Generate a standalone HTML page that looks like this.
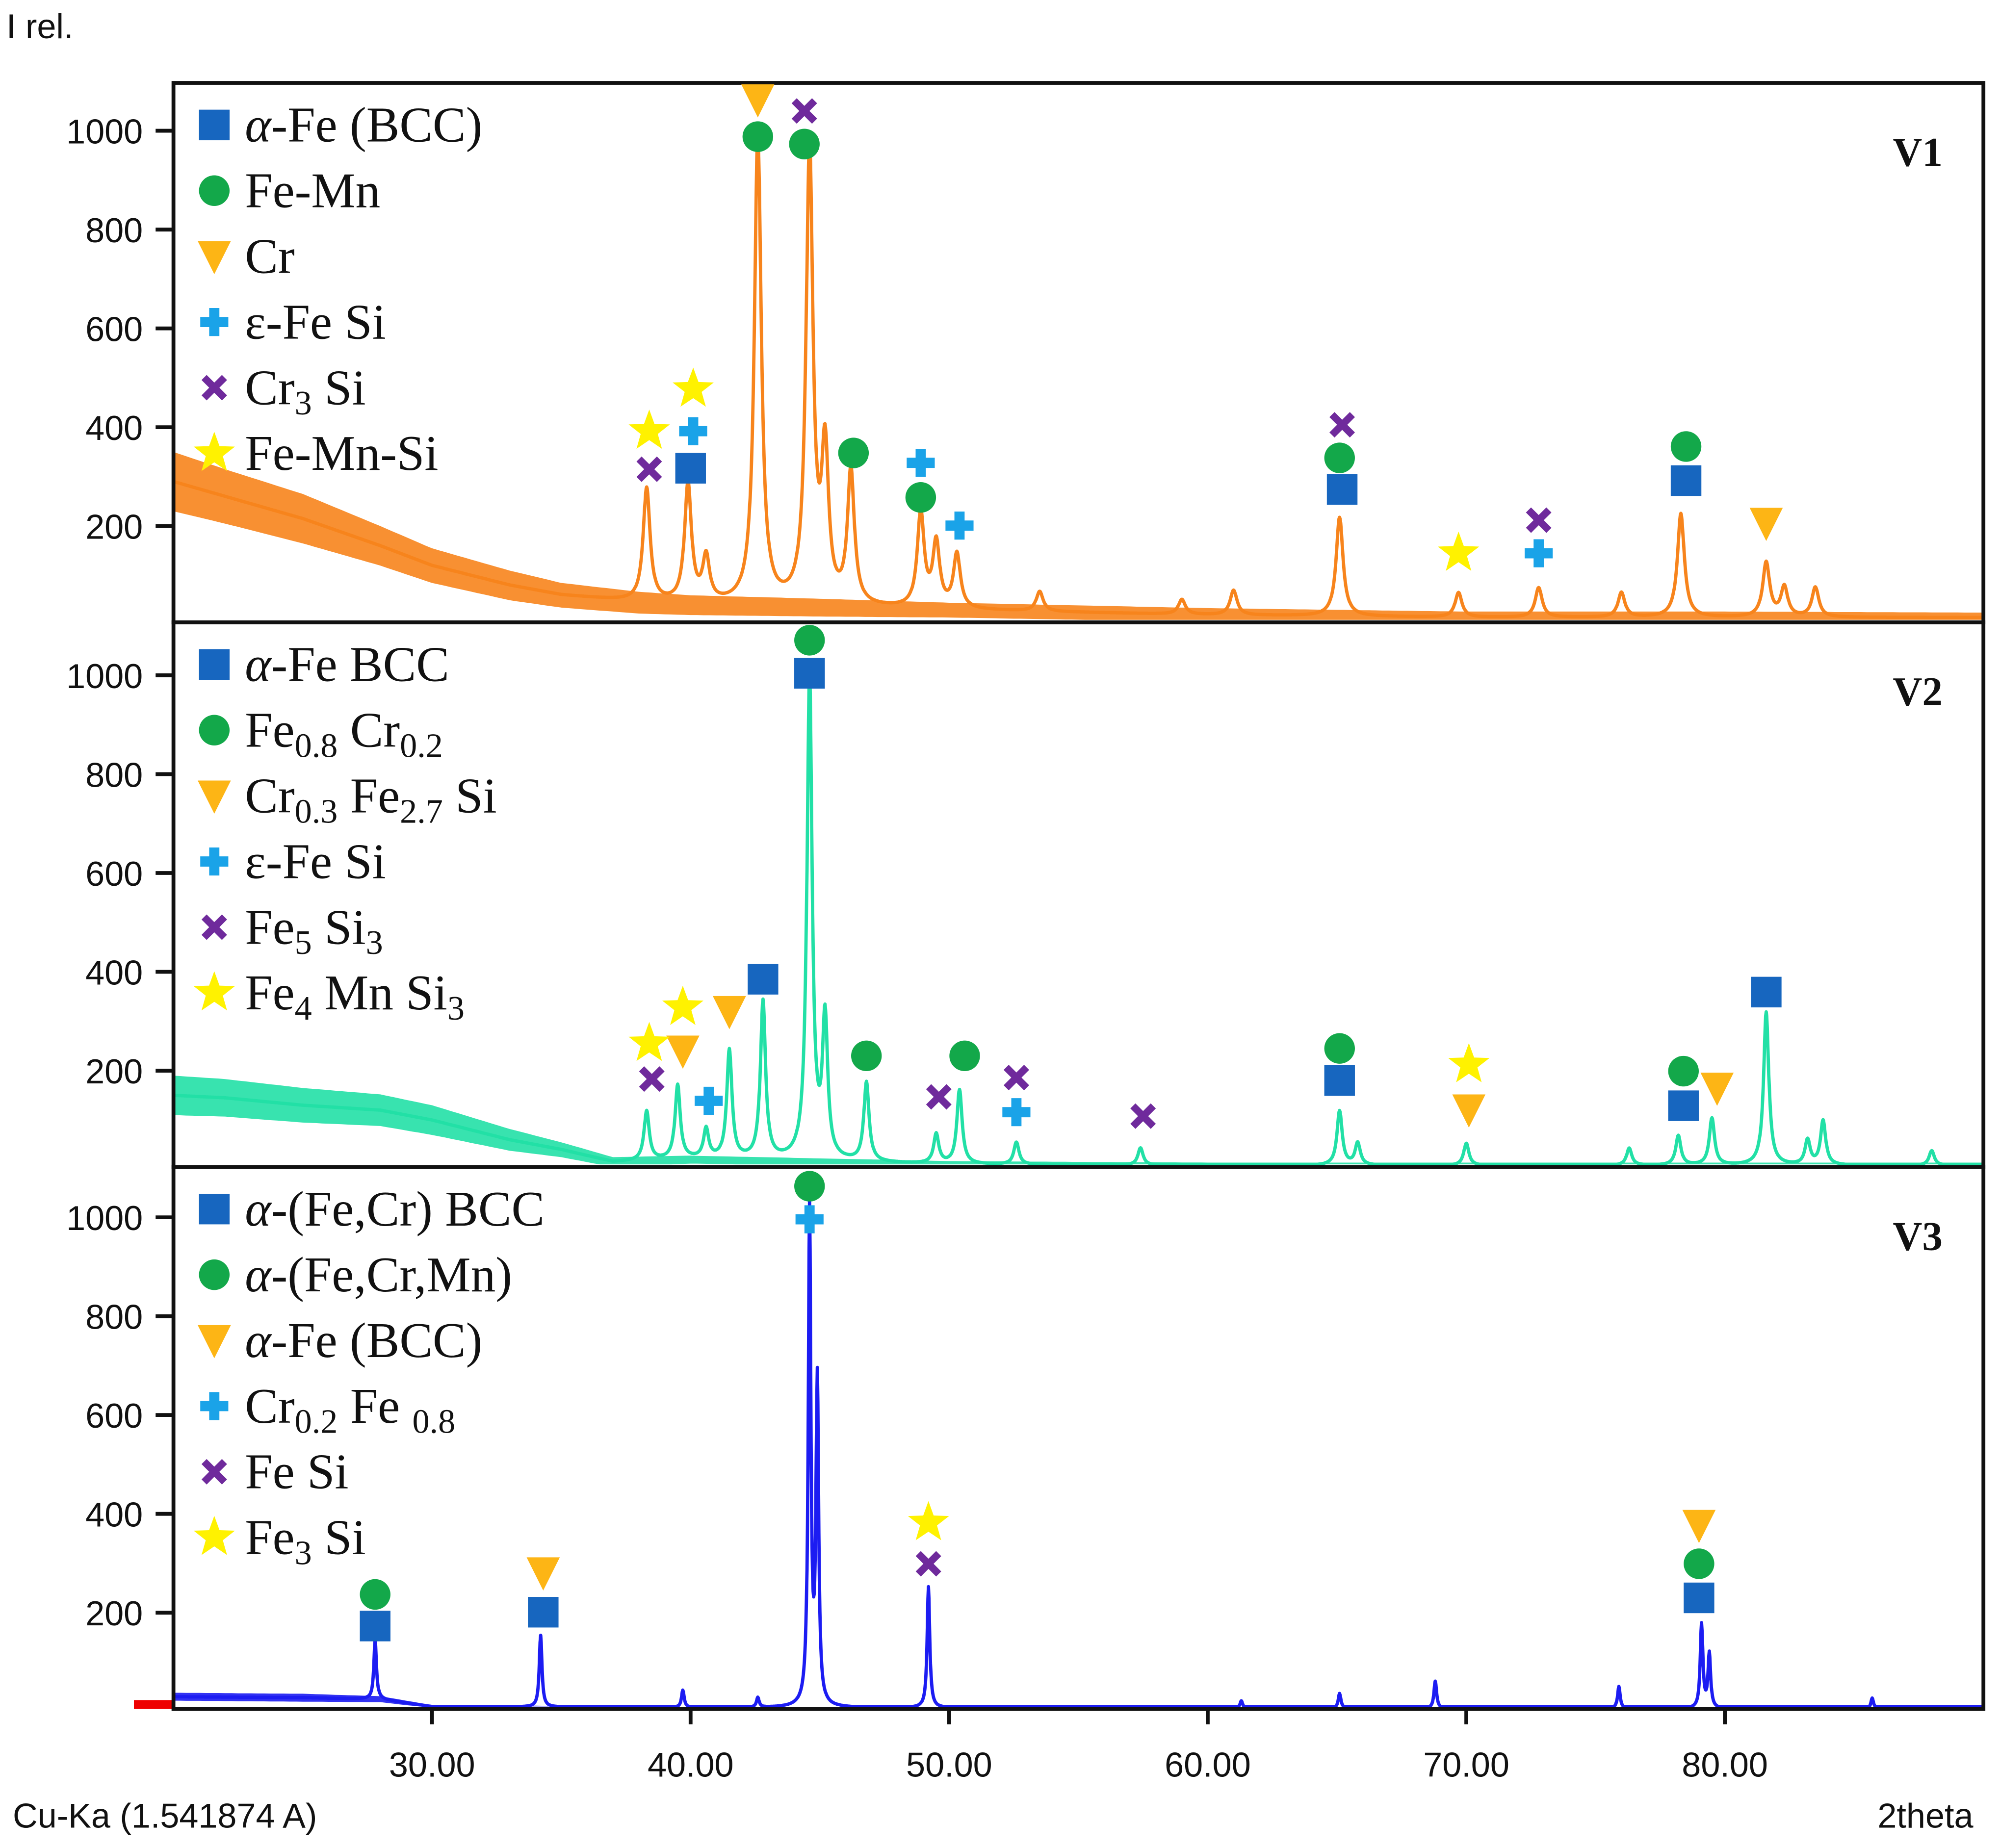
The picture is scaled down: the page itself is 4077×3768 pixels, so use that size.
<!DOCTYPE html>
<html><head><meta charset="utf-8"><style>
html,body{margin:0;padding:0;background:#fff}
svg{display:block}
.tk{font-family:"Liberation Sans",sans-serif;font-size:27px;fill:#111}
.lg{font-family:"Liberation Serif",serif;font-size:39px;fill:#111}
.pl{font-family:"Liberation Serif",serif;font-size:32px;font-weight:bold;fill:#111}
</style></head><body>
<svg id="chart" width="4077" height="3768" viewBox="0 0 1568 1449" preserveAspectRatio="none" xmlns="http://www.w3.org/2000/svg">
<text x="5" y="30" class="tk">I rel.</text>
<text x="10" y="1433" class="tk">Cu-Ka (1.541874 A)</text>
<text x="1472" y="1433" class="tk">2theta</text>
<rect x="105" y="1333" width="31" height="7" fill="#e00"/>
<g id="plots"></g>
</svg>
<script>
// ---------- data ----------
const xTicks = [30,40,50,60,70,80];
const yTicks = [200,400,600,800,1000];
// V1
const v1BaseX = [20,22,25,28,30,33,35,38,40,45,50,60,70,80,90];
const v1BaseY = [290,260,215,160,120,80,60,45,40,35,30,20,15,15,15];
const v1AmpY  = [60,55,50,40,35,30,25,22,20,18,15,14,12,12,10];
const v1PeakPos = [38.3,39.9,40.6,42.6,44.6,45.2,46.2,48.9,49.5,50.3,53.5,59.0,61.0,65.1,69.7,72.8,76.0,78.3,81.6,82.3,83.5];
const v1PeakH   = [230,240,90,950,920,300,270,190,130,110,40,30,50,200,50,60,50,210,110,60,60];
// V2
const v2BaseX = [20,22,25,28,30,33,35,37,40,50,60,90];
const v2BaseY = [150,145,130,120,100,60,40,15,20,10,8,8];
const v2AmpY  = [40,38,35,32,30,22,15,10,8,7,6,6];
const v2PeakPos = [38.3,39.5,40.6,41.5,42.8,44.6,45.2,46.8,49.5,50.4,52.6,57.4,65.1,65.8,70.0,76.3,78.2,79.5,81.6,83.2,83.8,88.0];
const v2PeakH   = [100,150,60,220,320,980,280,160,60,150,45,35,110,45,45,35,60,95,310,50,90,30];
// V3
const v3BaseX = [20,25,28,30,40,90];
const v3BaseY = [30,28,25,10,8,5];
const v3AmpY  = [8,8,6,3,2,2];
const v3PeakPos = [27.8,34.2,39.7,42.6,44.6,44.9,49.2,61.3,65.1,68.8,75.9,79.1,79.4,85.7];
const v3PeakH   = [120,145,35,20,1000,650,245,15,30,55,45,170,110,22];
// markers: x, value, type
const v1MX = [42.6,42.6,44.4,44.4,38.4,38.4,40.1,40.1,40.0,46.3,48.9,48.9,50.4,65.2,65.1,65.2,69.7,72.8,72.8,78.5,78.5,81.6];
const v1MV = [1063,988,973,1040,392,315,477,392,317,348,328,258,201,405,338,274,145,212,145,361,292,206];
const v1MT = ["tri","cir","cir","x","star","x","star","plus","sq","cir","plus","cir","plus","x","cir","sq","star","x","plus","cir","sq","tri"];
const v2MX = [44.6,44.6,42.8,41.5,39.7,39.7,38.4,38.5,40.7,46.8,50.6,49.6,52.6,52.6,57.5,65.1,65.1,70.1,70.1,78.4,78.4,79.7,81.6];
const v2MV = [1071,1004,385,320,328,240,255,183,139,230,230,147,186,116,108,245,180,212,121,199,129,165,359];
const v2MT = ["cir","sq","sq","tri","star","tri","star","x","plus","cir","cir","x","x","plus","x","cir","sq","star","tri","cir","sq","tri","sq"];
const v3MX = [44.6,44.6,34.3,34.3,27.8,27.8,49.2,49.2,79.0,79.0,79.0];
const v3MV = [1063,996,281,201,237,173,382,299,377,299,230];
const v3MT = ["cir","plus","tri","sq","cir","sq","star","x","tri","cir","sq"];
const A="<tspan font-style='italic'>α</tspan>";
const legend1 = [["sq",A+"-Fe (BCC)"],["cir","Fe-Mn"],["tri","Cr"],["plus","ε-Fe Si"],["x","Cr<tspan font-size='27' dy='8'>3</tspan><tspan dy='-8'> Si</tspan>"],["star","Fe-Mn-Si"]];
const legend2 = [["sq",A+"-Fe BCC"],["cir","Fe<tspan font-size='27' dy='8'>0.8</tspan><tspan dy='-8'> Cr</tspan><tspan font-size='27' dy='8'>0.2</tspan>"],["tri","Cr<tspan font-size='27' dy='8'>0.3</tspan><tspan dy='-8'> Fe</tspan><tspan font-size='27' dy='8'>2.7</tspan><tspan dy='-8'> Si</tspan>"],["plus","ε-Fe Si"],["x","Fe<tspan font-size='27' dy='8'>5</tspan><tspan dy='-8'> Si</tspan><tspan font-size='27' dy='8'>3</tspan>"],["star","Fe<tspan font-size='27' dy='8'>4</tspan><tspan dy='-8'> Mn Si</tspan><tspan font-size='27' dy='8'>3</tspan>"]];
const legend3 = [["sq",A+"-(Fe,Cr) BCC"],["cir",A+"-(Fe,Cr,Mn)"],["tri",A+"-Fe (BCC)"],["plus","Cr<tspan font-size='27' dy='8'>0.2</tspan><tspan dy='-8'> Fe </tspan><tspan font-size='27' dy='8'>0.8</tspan>"],["x","Fe Si"],["star","Fe<tspan font-size='27' dy='8'>3</tspan><tspan dy='-8'> Si</tspan>"]];

// ---------- drawing ----------
const NS="http://www.w3.org/2000/svg";
const g=document.getElementById('plots');
const L=136,R=1555,X0=20,X1=90;
const sx=v=>L+(v-X0)*(R-L)/(X1-X0);
const K=0.3875;
const COL={sq:"#1766bf",cir:"#13a84a",tri:"#fdb515",plus:"#1aa3e8",x:"#6f2a9c",star:"#fff200"};
function el(t,a,p){const e=document.createElementNS(NS,t);for(const k in a)e.setAttribute(k,a[k]);(p||g).appendChild(e);return e;}
function interp(xs,ys,x){for(let i=1;i<xs.length;i++){if(x<=xs[i]){const t=(x-xs[i-1])/(xs[i]-xs[i-1]);return ys[i-1]+t*(ys[i]-ys[i-1]);}}return ys[ys.length-1];}
function marker(type,cx,cy,p){
 let e;const c=COL[type];
 if(type==="sq")e=el('rect',{x:cx-12,y:cy-12,width:24,height:24,fill:c},p);
 else if(type==="cir")e=el('circle',{cx:cx,cy:cy,r:12,fill:c},p);
 else if(type==="tri")e=el('polygon',{points:`${cx-13},${cy-12} ${cx+13},${cy-12} ${cx},${cy+14}`,fill:c},p);
 else if(type==="plus")e=el('path',{d:`M${cx-11},${cy-4}h7v-7h8v7h7v8h-7v7h-8v-7h-7z`,fill:c},p);
 else if(type==="x")e=el('path',{d:`M${cx-10},${cy-6}l4,-4l6,6l6,-6l4,4l-6,6l6,6l-4,4l-6,-6l-6,6l-4,-4l6,-6z`,fill:c},p);
 else{let pts=[];for(let i=0;i<10;i++){const r=i%2?7:17,a=-Math.PI/2+i*Math.PI/5;pts.push((cx+r*Math.cos(a)).toFixed(1)+","+(cy+r*Math.sin(a)).toFixed(1));}e=el('polygon',{points:pts.join(' '),fill:c},p);}
 return e;
}
function panel(name,top,bot,zero,color,bx,by,ba,pp,ph,w,mx,mv,mt,leg){
 const pg=el('g',{});
 
 
 const sy=v=>Math.min(bot-2,zero-v*K);
 // noise envelope
 let up=[],lo=[];
 for(let x=X0;x<=X1+0.001;x+=0.25){const b=interp(bx,by,x),a=interp(bx,ba,x);up.push(sx(x).toFixed(1)+","+sy(b+a).toFixed(1));lo.unshift(sx(x).toFixed(1)+","+sy(Math.max(0,b-a)).toFixed(1));}
 const band=el('polygon',{points:up.concat(lo).join(' '),fill:color,opacity:0.9},pg);
 
 
 // spectrum
 let d="";for(let x=X0;x<=X1;x+=0.02){let y=interp(bx,by,x);for(let i=0;i<pp.length;i++){const u=(x-pp[i])/w;y+=ph[i]/(1+u*u);}
  d+=(d?"L":"M")+sx(x).toFixed(1)+","+Math.max(top+2,sy(y)).toFixed(1);}
 const line=el('path',{d:d,fill:"none",stroke:color,"stroke-width":2.6,"stroke-linejoin":"round"},pg);
 
 
 // frame
 const fr=el('rect',{x:L,y:top,width:R-L,height:bot-top,fill:"none",stroke:"#111","stroke-width":3},pg);
 
 
 yTicks.forEach(v=>{const y=zero-v*K;el('line',{x1:122,x2:L,y1:y,y2:y,stroke:"#111","stroke-width":3},pg);
  const t=el('text',{x:112,y:y+10,"text-anchor":"end",class:"tk"},pg);t.textContent=v;
  
  });
 for(let i=0;i<mx.length;i++){const m=marker(mt[i],sx(mx[i]),zero-mv[i]*K,pg);
  
  }
 leg.forEach((e,i)=>{const y=top+33+i*51.5;const m=marker(e[0],168,y,pg);
  
  
  const t=el('text',{x:192,y:y+13,class:"lg"},pg);t.innerHTML=e[1];
  
  });
 const lb=el('text',{x:1523,y:top+65,"text-anchor":"end",class:"pl"},pg);lb.textContent=name.toUpperCase();
 
 
}
panel('v1',65,488,490,"#f7841c",v1BaseX,v1BaseY,v1AmpY,v1PeakPos,v1PeakH,0.16,v1MX,v1MV,v1MT,legend1);
panel('v2',488,915,917,"#22e0a6",v2BaseX,v2BaseY,v2AmpY,v2PeakPos,v2PeakH,0.12,v2MX,v2MV,v2MT,legend2);
panel('v3',915,1340,1342,"#1c1cf2",v3BaseX,v3BaseY,v3AmpY,v3PeakPos,v3PeakH,0.06,v3MX,v3MV,v3MT,legend3);
xTicks.forEach(v=>{const x=sx(v);el('line',{x1:x,x2:x,y1:1340,y2:1352,stroke:"#111","stroke-width":3});
 const t=el('text',{x:x,y:1393,"text-anchor":"middle",class:"tk"});t.textContent=v.toFixed(2);
 
 });
</script>
</body></html>
